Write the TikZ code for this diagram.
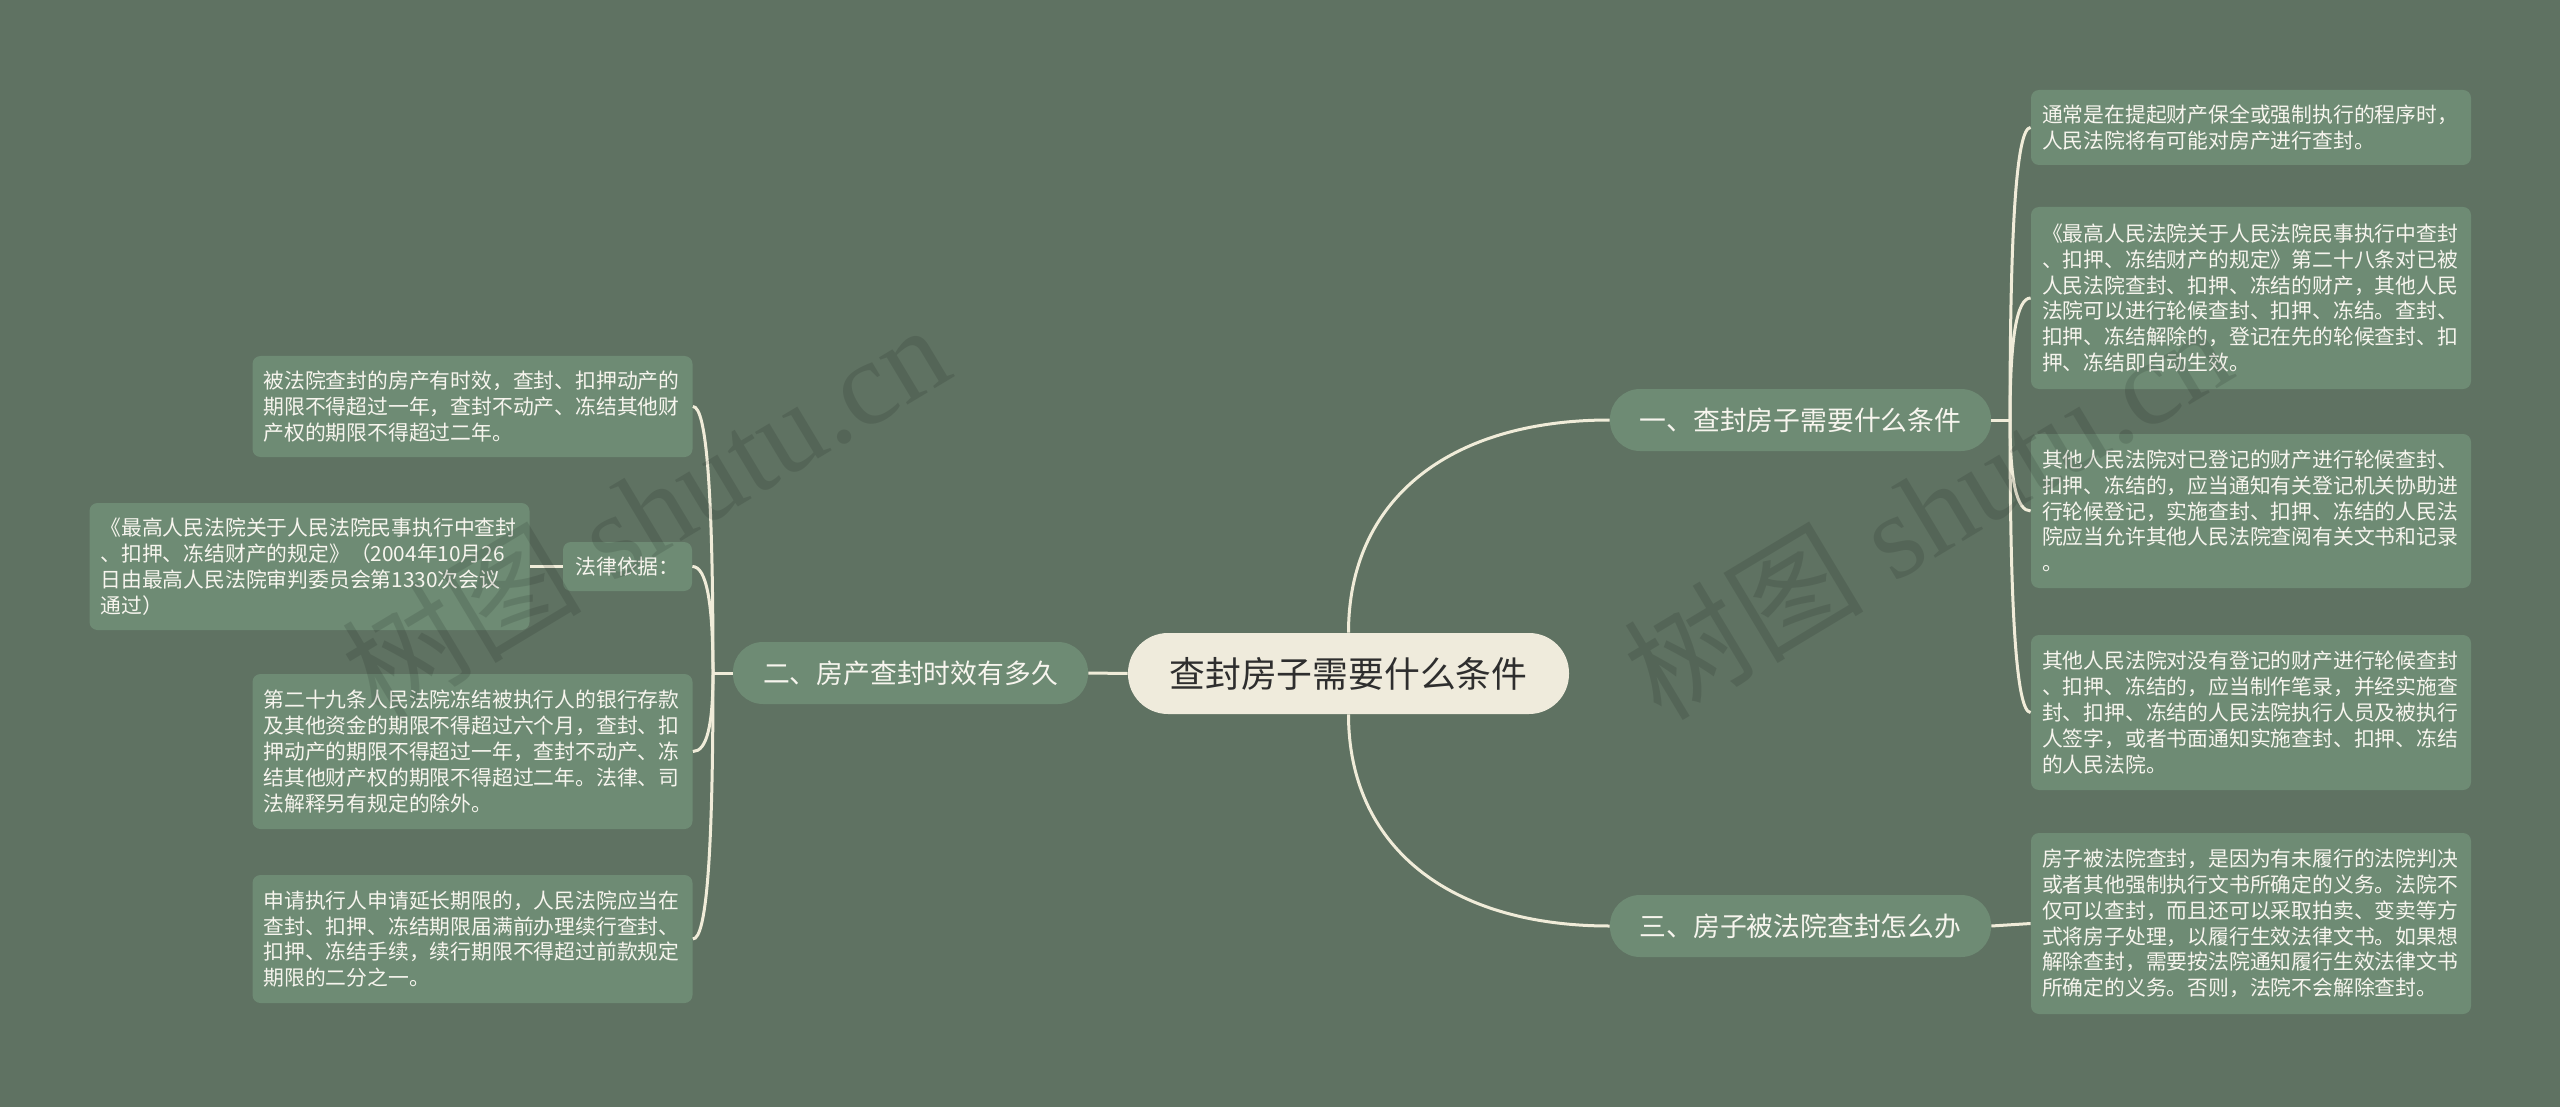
\documentclass[tikz,border=0pt]{standalone}
\usepackage{fontspec}
\newfontfamily\cjk{Noto Sans CJK SC}
\newfontfamily\wmserif{Liberation Serif}
\definecolor{bgc}{HTML}{5F7262}
\definecolor{leafc}{HTML}{6E8B74}
\definecolor{centerc}{HTML}{EFEBDC}
\definecolor{lnc}{HTML}{F0ECD9}
\definecolor{leaftxt}{HTML}{F7F5EE}
\definecolor{centertxt}{HTML}{2E2E2E}
\begin{document}
\begin{tikzpicture}[x=0.5pt,y=-0.5pt,
  conn/.style={draw=lnc, line width=1.5pt},
  leaf/.style={fill=leafc, rounded corners=4pt, text=leaftxt,
    font=\cjk\fontsize{10.4pt}{12.9pt}\selectfont, text width=209pt,
    align=left, inner xsep=5.5pt, inner ysep=0pt},
  tag/.style={fill=leafc, rounded corners=4pt, text=leaftxt,
    font=\cjk\fontsize{10.4pt}{12.9pt}\selectfont, inner sep=0pt,
    minimum width=64.5pt, minimum height=24.5pt},
  branch/.style={fill=leafc, rounded corners=15pt, text=leaftxt,
    font=\cjk\fontsize{13.4pt}{16pt}\selectfont, inner sep=0pt,
    minimum height=31pt},
  root/.style={fill=centerc, rounded corners=20pt, text=centertxt,
    font=\cjk\fontsize{17.9pt}{21pt}\selectfont, inner sep=0pt,
    minimum width=220.5pt, minimum height=40.5pt},
  wmark/.style={text=black, opacity=0.11, rotate=31, inner sep=0pt}
]
\useasboundingbox (0,0) rectangle (2560,1107);
\fill[bgc] (0,0) rectangle (2560,1107);

% root and branches
\node[root] (c) at (1348.5,673.5) {查封房子需要什么条件};
\node[branch, minimum width=190.5pt] (b1) at (1800.5,420) {一、查封房子需要什么条件};
\node[branch, minimum width=190.5pt] (b3) at (1800.5,926) {三、房子被法院查封怎么办};
\node[branch, minimum width=177.5pt] (b2) at (910.5,673) {二、房产查封时效有多久};

% right leaves
\node[leaf, minimum height=37.5pt] (r1) at (2251,127.5) {通常是在提起财产保全或强制执行的程序时，\\人民法院将有可能对房产进行查封。};
\node[leaf, minimum height=91pt] (r2) at (2251,298) {《最高人民法院关于人民法院民事执行中查封\\、扣押、冻结财产的规定》第二十八条对已被\\人民法院查封、扣押、冻结的财产，其他人民\\法院可以进行轮候查封、扣押、冻结。查封、\\扣押、冻结解除的，登记在先的轮候查封、扣\\押、冻结即自动生效。};
\node[leaf, minimum height=77pt] (r3) at (2251,511) {其他人民法院对已登记的财产进行轮候查封、\\扣押、冻结的，应当通知有关登记机关协助进\\行轮候登记，实施查封、扣押、冻结的人民法\\院应当允许其他人民法院查阅有关文书和记录\\。};
\node[leaf, minimum height=77.5pt] (r4) at (2251,712.5) {其他人民法院对没有登记的财产进行轮候查封\\、扣押、冻结的，应当制作笔录，并经实施查\\封、扣押、冻结的人民法院执行人员及被执行\\人签字，或者书面通知实施查封、扣押、冻结\\的人民法院。};
\node[leaf, minimum height=90.5pt] (r5) at (2251,923.5) {房子被法院查封，是因为有未履行的法院判决\\或者其他强制执行文书所确定的义务。法院不\\仅可以查封，而且还可以采取拍卖、变卖等方\\式将房子处理，以履行生效法律文书。如果想\\解除查封，需要按法院通知履行生效法律文书\\所确定的义务。否则，法院不会解除查封。};

% left leaves
\node[leaf, minimum height=50.5pt] (l1) at (472.5,406.5) {被法院查封的房产有时效，查封、扣押动产的\\期限不得超过一年，查封不动产、冻结其他财\\产权的期限不得超过二年。};
\node[tag] (l2) at (627.5,566.5) {法律依据：};
\node[leaf, minimum height=63.5pt] (l2a) at (309.5,566.5) {《最高人民法院关于人民法院民事执行中查封\\、扣押、冻结财产的规定》（2004年10月26\\日由最高人民法院审判委员会第1330次会议\\通过）};
\node[leaf, minimum height=77.5pt] (l3) at (472.5,751.5) {第二十九条人民法院冻结被执行人的银行存款\\及其他资金的期限不得超过六个月，查封、扣\\押动产的期限不得超过一年，查封不动产、冻\\结其他财产权的期限不得超过二年。法律、司\\法解释另有规定的除外。};
\node[leaf, minimum height=64pt] (l4) at (472.5,939) {申请执行人申请延长期限的，人民法院应当在\\查封、扣押、冻结期限届满前办理续行查封、\\扣押、冻结手续，续行期限不得超过前款规定\\期限的二分之一。};

% junctions
\coordinate (j1) at (2010,420);
\coordinate (j2) at (713,673);

% root connectors
\draw[conn] (c.north) .. controls +(0,-132) and +(-162,0) .. (b1.west);
\draw[conn] (c.south) .. controls +(0,131) and +(-162,0) .. (b3.west);
\draw[conn] (c.west) -- (b2.east);

% branch 1 to leaves
\draw[conn] (b1.east) -- (j1);
\draw[conn] (j1) .. controls +(0,-195) and +(-14,0) .. (r1.west);
\draw[conn] (j1) .. controls +(0,-81) and +(-14,0) .. (r2.west);
\draw[conn] (j1) .. controls +(0,61) and +(-14,0) .. (r3.west);
\draw[conn] (j1) .. controls +(0,195) and +(-14,0) .. (r4.west);

% branch 3 to leaf
\draw[conn] (b3.east) -- (r5.west);

% branch 2 to leaves
\draw[conn] (b2.west) -- (j2);
\draw[conn] (j2) .. controls +(0,-178) and +(14,0) .. (l1.east);
\draw[conn] (j2) .. controls +(0,-71) and +(14,0) .. (l2.east);
\draw[conn] (j2) .. controls +(0,52) and +(14,0) .. (l3.east);
\draw[conn] (j2) .. controls +(0,177) and +(14,0) .. (l4.east);
\draw[conn] (l2.west) -- (l2a.east);

% watermarks
\node[wmark] (w1) at (645,510) {\cjk\fontsize{60pt}{60pt}\selectfont 树图\wmserif\ shutu.cn};
\node[wmark] (w2) at (1927,510) {\cjk\fontsize{60pt}{60pt}\selectfont 树图\wmserif\ shutu.cn};
\end{tikzpicture}
\end{document}
